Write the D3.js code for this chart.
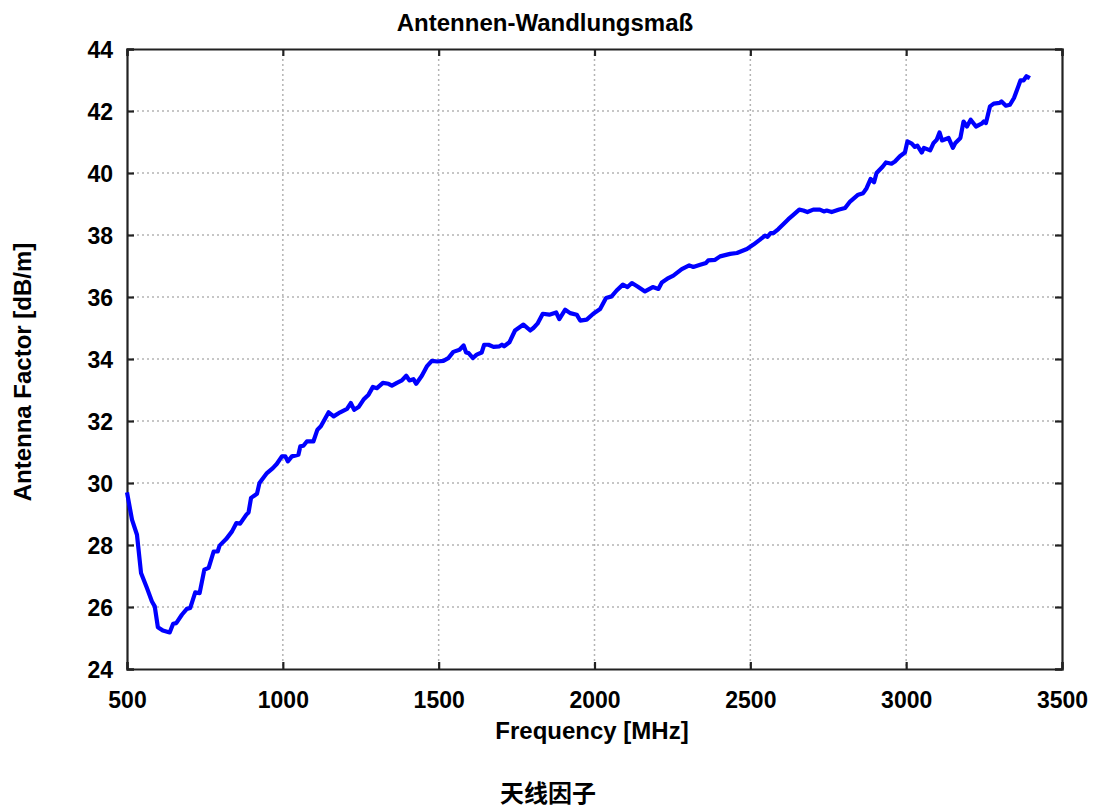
<!DOCTYPE html>
<html>
<head>
<meta charset="utf-8">
<script src="https://cdn.jsdelivr.net/npm/d3@7"></script>
<style>
  body { margin: 0; background: #fff; }
  text { font-family: "Liberation Sans", Arial, sans-serif; font-weight: bold; fill: #000; }
</style>
</head>
<body>
<script>
var W = 1097, H = 809;
var margin = {left: 127, top: 49, right: 35, bottom: 140};

var title = "Antennen-Wandlungsmaß";
var xLabel = "Frequency [MHz]";
var yLabel = "Antenna Factor [dB/m]";
var caption = "天线因子";

var xTicks = [500, 1000, 1500, 2000, 2500, 3000, 3500];
var yTicks = [24, 26, 28, 30, 32, 34, 36, 38, 40, 42, 44];

// frequency (MHz) and antenna factor (dB/m)
var freq = [500, 516, 532, 545, 564, 580, 589, 599, 615, 637, 648, 658, 676, 692, 703, 719, 733, 748, 762, 778,
  791, 797, 818, 837, 851, 863, 883, 890, 898, 917, 925, 949, 968, 981, 997, 1008, 1016, 1029, 1050, 1056,
  1066, 1077, 1098, 1111, 1122, 1147, 1163, 1184, 1206, 1218, 1229, 1243, 1259, 1275, 1289, 1302, 1321, 1339, 1350, 1366,
  1382, 1396, 1406, 1419, 1428, 1446, 1462, 1478, 1496, 1515, 1531, 1547, 1567, 1580, 1588, 1596, 1610, 1622, 1638, 1646,
  1660, 1676, 1695, 1703, 1710, 1727, 1745, 1772, 1794, 1804, 1817, 1834, 1855, 1877, 1887, 1906, 1922, 1943, 1954, 1975,
  1996, 2018, 2037, 2055, 2071, 2091, 2106, 2120, 2138, 2162, 2187, 2205, 2216, 2237, 2253, 2280, 2304, 2317, 2339, 2358,
  2365, 2387, 2403, 2435, 2457, 2489, 2510, 2531, 2547, 2555, 2565, 2574, 2590, 2604, 2622, 2638, 2657, 2670, 2683, 2702,
  2723, 2736, 2745, 2761, 2785, 2804, 2820, 2846, 2862, 2873, 2886, 2897, 2905, 2925, 2935, 2953, 2964, 2980, 2996, 3004,
  3018, 3028, 3036, 3050, 3057, 3077, 3088, 3098, 3107, 3115, 3136, 3150, 3158, 3174, 3184, 3195, 3207, 3224, 3242, 3249,
  3256, 3269, 3281, 3300, 3306, 3320, 3333, 3346, 3367, 3377, 3386, 3397];
var af = [29.70, 28.82, 28.33, 27.10, 26.61, 26.18, 26.02, 25.35, 25.24, 25.18, 25.46, 25.48, 25.75, 25.94, 25.97, 26.47, 26.45, 27.20, 27.26, 27.79,
  27.79, 27.98, 28.19, 28.44, 28.71, 28.69, 28.98, 29.05, 29.52, 29.65, 30.00, 30.32, 30.48, 30.62, 30.86, 30.86, 30.70, 30.86, 30.91, 31.18,
  31.20, 31.34, 31.34, 31.72, 31.83, 32.28, 32.15, 32.28, 32.39, 32.58, 32.36, 32.45, 32.69, 32.85, 33.10, 33.06, 33.23, 33.20, 33.14, 33.23,
  33.31, 33.46, 33.31, 33.35, 33.20, 33.46, 33.76, 33.94, 33.92, 33.94, 34.03, 34.23, 34.30, 34.44, 34.21, 34.19, 34.03, 34.14, 34.21, 34.46,
  34.46, 34.39, 34.41, 34.46, 34.41, 34.54, 34.92, 35.11, 34.92, 35.00, 35.14, 35.46, 35.43, 35.50, 35.29, 35.59, 35.48, 35.43, 35.24, 35.27,
  35.46, 35.61, 35.97, 36.02, 36.21, 36.40, 36.32, 36.45, 36.34, 36.18, 36.32, 36.26, 36.47, 36.61, 36.69, 36.90, 37.02, 36.97, 37.04, 37.10,
  37.18, 37.20, 37.31, 37.39, 37.42, 37.55, 37.69, 37.85, 37.98, 37.94, 38.06, 38.06, 38.19, 38.33, 38.51, 38.65, 38.82, 38.79, 38.74, 38.82,
  38.82, 38.76, 38.79, 38.74, 38.82, 38.87, 39.08, 39.30, 39.35, 39.51, 39.81, 39.70, 40.00, 40.21, 40.34, 40.30, 40.37, 40.54, 40.66, 41.02,
  40.95, 40.84, 40.88, 40.66, 40.81, 40.73, 40.97, 41.07, 41.31, 41.05, 41.13, 40.81, 40.97, 41.13, 41.66, 41.50, 41.72, 41.50, 41.59, 41.66,
  41.61, 42.15, 42.24, 42.26, 42.31, 42.17, 42.20, 42.42, 42.99, 42.99, 43.12, 43.06];

var data = freq.map(function(f, i){ return {f: f, v: af[i]}; });

var pw = W - margin.left - margin.right;
var ph = H - margin.top - margin.bottom;

var x = d3.scaleLinear().domain([500, 3500]).range([0, pw]);
var y = d3.scaleLinear().domain([24, 44]).range([ph, 0]);

var svg = d3.select("body").append("svg")
    .attr("width", W)
    .attr("height", H);

var g = svg.append("g")
    .attr("transform", "translate(" + margin.left + "," + margin.top + ")");

// dotted grid
g.selectAll(".vgrid")
    .data(xTicks.slice(1, -1))
    .enter().append("line")
    .attr("x1", function(d){ return x(d); })
    .attr("x2", function(d){ return x(d); })
    .attr("y1", 0).attr("y2", ph)
    .attr("stroke", "#b4b4b4").attr("stroke-width", 1.5)
    .attr("stroke-dasharray", "2,3");

g.selectAll(".hgrid")
    .data(yTicks.slice(1, -1))
    .enter().append("line")
    .attr("y1", function(d){ return y(d); })
    .attr("y2", function(d){ return y(d); })
    .attr("x1", 0).attr("x2", pw)
    .attr("stroke", "#b4b4b4").attr("stroke-width", 1.5)
    .attr("stroke-dasharray", "2,3");

// axes with inward ticks
var tk = 7;
var xAxisB = d3.axisBottom(x).tickValues(xTicks).tickSize(-tk).tickPadding(23).tickFormat(d3.format("d"));
var xAxisT = d3.axisTop(x).tickValues(xTicks).tickSize(-tk).tickFormat("");
var yAxisL = d3.axisLeft(y).tickValues(yTicks).tickSize(-tk).tickPadding(14).tickFormat(d3.format("d"));
var yAxisR = d3.axisRight(y).tickValues(yTicks).tickSize(-tk).tickFormat("");

var gx = g.append("g").attr("transform", "translate(0," + ph + ")").call(xAxisB);
g.append("g").call(xAxisT);
var gy = g.append("g").call(yAxisL);
g.append("g").attr("transform", "translate(" + pw + ",0)").call(yAxisR);

svg.selectAll(".domain").attr("stroke", "#222").attr("stroke-width", 2.2);
svg.selectAll(".tick line").attr("stroke", "#222").attr("stroke-width", 2.2);
gx.selectAll("text").style("font-size", "23px").attr("font-family", null);
gy.selectAll("text").style("font-size", "23px").attr("font-family", null).attr("dy", "0.36em");

// curve
var line = d3.line()
    .x(function(d){ return x(d.f); })
    .y(function(d){ return y(d.v); });

g.append("path")
    .datum(data)
    .attr("d", line)
    .attr("fill", "none")
    .attr("stroke", "#0000ff")
    .attr("stroke-width", 4.2)
    .attr("stroke-linejoin", "round");

// labels
svg.append("text")
    .attr("x", 545).attr("y", 31)
    .attr("text-anchor", "middle")
    .style("font-size", "24px")
    .text(title);

svg.append("text")
    .attr("x", 592).attr("y", 739)
    .attr("text-anchor", "middle")
    .style("font-size", "24px")
    .text(xLabel);

svg.append("text")
    .attr("transform", "translate(31,372) rotate(-90)")
    .attr("text-anchor", "middle")
    .style("font-size", "24px")
    .text(yLabel);

svg.append("text")
    .attr("x", 548).attr("y", 802)
    .attr("text-anchor", "middle")
    .style("font-family", "'Noto Sans CJK SC', sans-serif")
    .style("font-size", "24px")
    .text(caption);
</script>
</body>
</html>
